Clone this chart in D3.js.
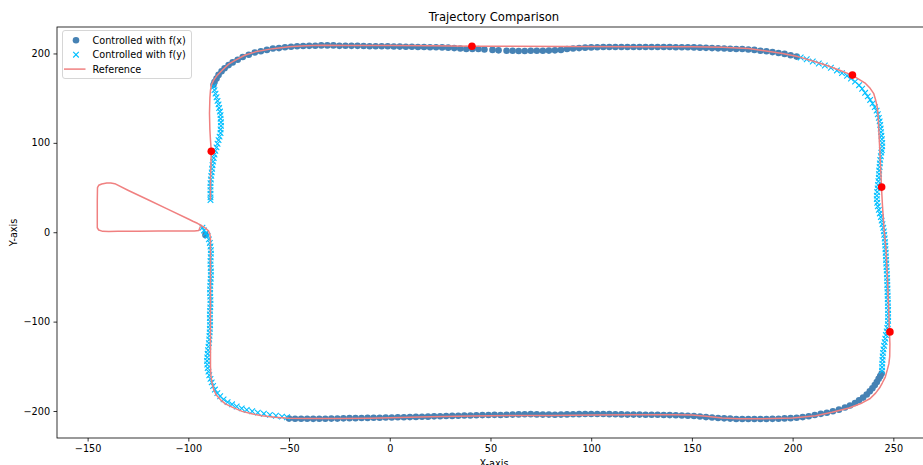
<!DOCTYPE html>
<html>
<head>
	<meta charset="utf-8">
	<title>Trajectory Comparison</title>
	<script src="https://cdnjs.cloudflare.com/ajax/libs/d3/7.8.5/d3.min.js"></script>
	<style>
		body { margin: 0; background: #fff; }
		svg { font-family: "DejaVu Sans", sans-serif; }
	</style>
</head>
<body>
<script>
	// tick labels
	var xTicks = [-150, -100, -50, 0, 50, 100, 150, 200, 250];
	var yTicks = [-200, -100, 0, 100, 200];

	// reference trajectory, [x, y]
	var refPath = [
		[-94, 6.5], [-94.8, 2], [-97, 1.5], [-105, 1.5], [-115, 1.5], [-125, 1.2], [-135, 1], [-139.5, 0.8],
		[-142.5, 1], [-144.5, 2.5], [-145.2, 5], [-145.2, 20], [-145.2, 35], [-145.1, 50], [-144.5, 52.5],
		[-143, 54], [-140.5, 55], [-138.5, 55], [-136.5, 54.3], [-130, 47], [-120, 36.3], [-110, 25.5],
		[-100, 14.8], [-97.5, 12], [-95.5, 10], [-93.5, 7.5], [-91.5, 4.5], [-90, 1.5], [-89.3, -2], [-89, -8],
		[-89, -40], [-89, -80], [-89, -120], [-89, -150], [-88.8, -160], [-88.3, -168], [-87.4, -176],
		[-86, -182.5], [-84, -187.5], [-81.6, -192], [-78, -196], [-73.3, -200.4], [-68, -203.3],
		[-63.4, -205.3], [-57, -207], [-50, -208], [-40, -208.5], [-25, -208.5], [-10, -208], [0, -207.5],
		[20, -206.5], [40, -205.5], [60, -205], [80, -205], [100, -204.5], [120, -204.3], [140, -204.3],
		[150, -204.5], [157, -206], [165, -207.8], [173, -208.6], [185, -208.6], [200, -207.8],
		[211.4, -205.3], [219.6, -201.5], [228, -196.6], [234.5, -191], [238.5, -186], [241.2, -180],
		[243.2, -174], [244.5, -168.7], [246, -162], [247, -154], [247.8, -147], [248.2, -139], [248.3, -125],
		[248.1, -112.8], [247.6, -80], [247, -46], [246.4, -20], [245.3, 6], [244.6, 30], [244.1, 51],
		[243.6, 77], [243.1, 100], [242.8, 114], [242.5, 129], [242, 140], [241.2, 148], [240.3, 155],
		[238.5, 161], [236.2, 166.5], [233, 171], [229.5, 175.8], [223, 181.5], [216.3, 187], [210, 191.5],
		[203, 196.2], [195, 200], [186, 203], [178, 205.6], [165, 207], [150, 207.5], [120, 207.5],
		[90, 207.8], [60, 208], [41, 208], [20, 208.5], [0, 208.8], [-20, 209], [-33.6, 209.3], [-42, 208.5],
		[-50, 207.4], [-58, 205.4], [-66.7, 201.8], [-72, 198], [-76.6, 192.5], [-80, 188], [-83.2, 181.3],
		[-85.5, 176], [-87.4, 170.2], [-88.5, 165], [-89, 159], [-89.3, 150], [-89.5, 133], [-89.3, 115],
		[-89, 103], [-88.6, 90], [-88.8, 75], [-89, 60], [-89, 45], [-89, 36]
	];

	// controlled with f(x): top and bottom runs
	var fxPoints = [
		[-91.5, -3],
		[-87.5, 165], [-87, 168], [-86, 172], [-85, 176], [-83.5, 180], [-82, 183.5], [-80, 187], [-78, 190],
		[-75.5, 193], [-73, 196], [-70, 198.5], [-67, 201], [-64, 202.5], [-61, 204], [-58, 205.5], [-55, 206],
		[-52, 207], [-49, 207.5], [-46, 208], [-43, 208.3], [-40, 208.5], [-37, 208.7], [-34, 209], [-31, 209],
		[-28, 209], [-25, 208.5], [-22, 208.7], [-19, 208.5], [-16, 208.5], [-13, 208.3], [-10, 208], [-7, 208],
		[-4, 208], [-1, 208], [2, 207.8], [5, 207.7], [8, 207.5], [11, 207.5], [14, 207.3], [17, 207.3],
		[20, 207], [23, 207], [26, 206.8], [29, 206.5], [32, 206], [35, 205.5], [38, 205], [41, 205], [44, 205],
		[47, 204.5], [51, 204], [54, 203.5], [58, 203], [61, 203], [64, 202.8], [67, 202.8], [70, 203], [73, 203],
		[76, 203], [79, 203.2], [82, 203.5], [85, 204], [88, 205], [91, 205.5], [94, 206], [97, 206.5],
		[100, 206.8], [103, 207], [106, 207.2], [109, 207.3], [112, 207.3], [115, 207.3], [118, 207.3],
		[121, 207.3], [124, 207.3], [127, 207.3], [130, 207.3], [133, 207.3], [136, 207.2], [139, 207.2],
		[142, 207], [145, 207], [148, 207], [151, 206.8], [154, 206.5], [157, 206.3], [160, 206], [163, 205.7],
		[166, 205.5], [169, 205.3], [172, 205], [175, 205], [178, 204.5], [181, 204], [184, 203], [187, 202.5],
		[190, 201.5], [193, 200.5], [196, 199.5], [199, 198], [202, 196.5],
		[-50, -208.5], [-47, -208.6], [-44, -208.7], [-41, -208.7], [-38, -208.8], [-35, -208.6], [-32, -208.6],
		[-29, -208.5], [-26, -208.5], [-23, -208.2], [-20, -208], [-17, -208], [-14, -207.8], [-11, -207.7],
		[-8, -207.6], [-5, -207.5], [-2, -207.3], [1, -207.2], [4, -207], [7, -207], [10, -206.8], [13, -206.6],
		[16, -206.5], [19, -206.3], [22, -206], [25, -205.8], [28, -205.6], [31, -205.5], [34, -205.3],
		[37, -205.1], [40, -205], [43, -204.8], [46, -204.6], [49, -204.5], [52, -204.3], [55, -204.5],
		[58, -204.2], [61, -204], [64, -203.8], [67, -203.6], [70, -203.5], [73, -203.8], [76, -204], [79, -204],
		[82, -204.2], [85, -204], [88, -203.8], [91, -203.6], [94, -203.5], [97, -203.4], [100, -203.3],
		[103, -203.3], [106, -203.4], [109, -203.5], [112, -203.6], [115, -203.8], [118, -204], [121, -204],
		[124, -204], [127, -204.2], [130, -204.2], [133, -204.2], [136, -204.4], [139, -204.6], [142, -204.8],
		[145, -205], [148, -205.3], [151, -205.6], [154, -206.2], [157, -206.8], [160, -207.3], [163, -207.8],
		[166, -208.2], [169, -208.5], [172, -209], [175, -209], [178, -209], [181, -209], [184, -209],
		[187, -209], [190, -208.8], [193, -208.6], [196, -208.3], [199, -208], [202, -207.5], [205, -206.8],
		[208, -205.8], [211, -204.5], [214, -203.2], [217, -202], [220, -200.3], [223, -198.5], [226, -196],
		[228.5, -193.8], [231, -191], [233, -188], [235, -185], [236.8, -181.5], [238.3, -178], [239.6, -174.5],
		[240.8, -171], [241.8, -167.5], [242.7, -164], [243.5, -161], [244.2, -158]
	];

	// controlled with f(y): the vertical runs and the top-right corner
	var fyPoints = [
		[-87.4, 163], [-87, 159], [-86.5, 155], [-86, 151], [-85.5, 147], [-85, 143], [-84.7, 139], [-84.3, 135],
		[-84, 131], [-84, 127], [-83.8, 123], [-83.8, 119], [-84, 115], [-84, 111], [-84.5, 107], [-85, 103],
		[-85.5, 99], [-86, 95], [-86.6, 91], [-87, 87], [-87.4, 83], [-87.7, 79], [-88, 75], [-88.2, 71],
		[-88.4, 67], [-88.6, 63], [-88.8, 59], [-89, 55], [-89, 51], [-89, 47], [-89, 43], [-89, 39], [-89, 36],
		[-93, 5], [-92.2, 2], [-91.3, -1], [-90.5, -4], [-89.8, -8], [-89.3, -12], [-89, -16], [-88.8, -20],
		[-88.8, -24], [-88.9, -28], [-89, -32], [-89, -36], [-88.9, -40], [-88.8, -44], [-88.8, -48],
		[-88.9, -52], [-89, -56], [-89.1, -60], [-89.2, -64], [-89.2, -68], [-89.1, -72], [-89, -76], [-89, -80],
		[-89.1, -84], [-89.2, -88], [-89.3, -92], [-89.3, -96], [-89.2, -100], [-89.2, -104], [-89.3, -108],
		[-89.4, -112], [-89.5, -116], [-89.6, -120], [-89.8, -124], [-90, -128], [-90.2, -132], [-90.4, -136],
		[-90.6, -140], [-90.7, -144], [-90.6, -148], [-90.4, -152], [-90, -156], [-89.6, -160], [-89, -164],
		[-88.4, -168], [-87.7, -172], [-86.8, -176], [-85.6, -180], [-84.2, -183.5], [-82.5, -187], [-80.5, -190],
		[-78.3, -192.5], [-76, -195], [-73.5, -197], [-71, -198.8], [-68.3, -200.3], [-65.5, -201.8],
		[-62.5, -203], [-59.5, -204.3], [-56.5, -205.3], [-53.5, -206.3], [-51, -207],
		[204, 195.5], [207, 193.5], [210, 191], [213, 188.8], [216, 186.5], [219, 184], [222, 181], [224.5, 178],
		[227, 175], [229, 172], [231, 168.5], [233, 164.5], [234.5, 160.5], [236, 156], [237.3, 152], [238.5, 148],
		[239.7, 144], [240.8, 140], [241.7, 136], [242.3, 132], [242.8, 128], [243.2, 124], [243.5, 120],
		[243.7, 116], [243.9, 112], [244.1, 108], [244.3, 104], [244.5, 100], [244.5, 96], [244.3, 92],
		[244, 89], [243.8, 85], [243.5, 81], [243.3, 77], [243.2, 73], [243, 69], [242.9, 65], [242.8, 61],
		[242.6, 57], [242.4, 53], [242.2, 49], [242, 45], [241.8, 41], [241.8, 37], [242, 33], [242.3, 29],
		[242.8, 25], [243.3, 21], [243.8, 17], [244.2, 13], [244.6, 9], [245, 5], [245.3, 1], [245.5, -3],
		[245.7, -7], [245.9, -11], [246, -15], [246.1, -19], [246.2, -23], [246.3, -27], [246.4, -31],
		[246.5, -35], [246.6, -39], [246.7, -43], [246.8, -47], [246.9, -51], [247, -55], [247, -59],
		[247.1, -63], [247.1, -67], [247.2, -71], [247.2, -75], [247.3, -79], [247.3, -83], [247.4, -87],
		[247.4, -91], [247.4, -95], [247.4, -99], [247.3, -103], [247, -107], [246.7, -111], [246.3, -115],
		[246, -119], [245.7, -123], [245.4, -127], [245.1, -131], [244.9, -135], [244.7, -139], [244.6, -143],
		[244.5, -147], [244.4, -151], [244.4, -155]
	];

	// red waypoints
	var waypoints = [[-88.6, 90.5], [40.8, 208], [229.7, 175.8], [244.2, 50.5], [248.3, -111.5]];

	var legendItems = ['Controlled with f(x)', 'Controlled with f(y)', 'Reference'];

	var width = 923, height = 465;
	var plot = { left: 57, right: 931, top: 27, bottom: 438 };

	var svg = d3.select('body').append('svg')
		.attr('width', width)
		.attr('height', height);

	var x = d3.scaleLinear().domain([-165.2, 268.7]).range([plot.left, plot.right]);
	var y = d3.scaleLinear().domain([-230.2, 229.6]).range([plot.bottom, plot.top]);

	function minus(d) {
		return d < 0 ? '\u2212' + Math.abs(d) : String(d);
	}

	var xAxis = svg.append('g')
		.attr('transform', 'translate(0,' + plot.bottom + ')')
		.call(d3.axisBottom(x).tickValues(xTicks).tickFormat(minus).tickSize(3.5).tickPadding(3.4));
	var yAxis = svg.append('g')
		.attr('transform', 'translate(' + plot.left + ',0)')
		.call(d3.axisLeft(y).tickValues(yTicks).tickFormat(minus).tickSize(3.5).tickPadding(3.4));

	[xAxis, yAxis].forEach(function (g) {
		g.select('.domain').remove();
		g.selectAll('line').attr('stroke', '#000').attr('stroke-width', 0.8);
		g.selectAll('text').attr('fill', '#000').style('font-size', '9.7px').style('font-family', '"DejaVu Sans", sans-serif');
	});

	// markers
	var line = d3.line()
		.x(function (d) { return x(d[0]); })
		.y(function (d) { return y(d[1]); });

	svg.append('g').selectAll('circle')
		.data(fxPoints)
		.enter()
		.append('circle')
		.attr('cx', function (d) { return x(d[0]); })
		.attr('cy', function (d) { return y(d[1]); })
		.attr('r', 3.3)
		.attr('fill', '#4682b4');

	var cross = 'M-2.8,-2.8L2.8,2.8M-2.8,2.8L2.8,-2.8';
	svg.append('g').selectAll('path')
		.data(fyPoints)
		.enter()
		.append('path')
		.attr('d', cross)
		.attr('transform', function (d) { return 'translate(' + x(d[0]) + ',' + y(d[1]) + ')'; })
		.attr('stroke', '#00bfff')
		.attr('stroke-width', 1.1)
		.attr('fill', 'none');

	svg.append('path')
		.datum(refPath)
		.attr('d', line)
		.attr('fill', 'none')
		.attr('stroke', '#f08080')
		.attr('stroke-width', 1.5)
		.attr('stroke-linejoin', 'round');

	svg.append('g').selectAll('circle')
		.data(waypoints)
		.enter()
		.append('circle')
		.attr('cx', function (d) { return x(d[0]); })
		.attr('cy', function (d) { return y(d[1]); })
		.attr('r', 3.8)
		.attr('fill', '#ff0000');

	// frame
	svg.append('rect')
		.attr('x', plot.left)
		.attr('y', plot.top)
		.attr('width', plot.right - plot.left)
		.attr('height', plot.bottom - plot.top)
		.attr('fill', 'none')
		.attr('stroke', '#000')
		.attr('stroke-width', 0.8);

	// titles
	svg.append('text')
		.attr('x', (plot.left + plot.right) / 2)
		.attr('y', 21)
		.attr('text-anchor', 'middle')
		.style('font-size', '11.6px')
		.text('Trajectory Comparison');

	// the x label sits partly below the frame edge, as in the original
	svg.append('text')
		.attr('x', (plot.left + plot.right) / 2)
		.attr('y', 467)
		.attr('text-anchor', 'middle')
		.style('font-size', '9.7px')
		.text('X-axis');

	svg.append('text')
		.attr('transform', 'translate(17,' + (plot.top + plot.bottom) / 2 + ') rotate(-90)')
		.attr('text-anchor', 'middle')
		.style('font-size', '9.7px')
		.text('Y-axis');

	// legend
	var legend = svg.append('g').attr('transform', 'translate(62,30)');
	legend.append('rect')
		.attr('x', 0.5)
		.attr('y', 0.5)
		.attr('width', 129)
		.attr('height', 48)
		.attr('rx', 2.5)
		.attr('fill', '#fff')
		.attr('fill-opacity', 0.8)
		.attr('stroke', '#cccccc')
		.attr('stroke-width', 0.8);

	var rows = legend.selectAll('g.row')
		.data(legendItems)
		.enter()
		.append('g')
		.attr('class', 'row')
		.attr('transform', function (d, i) { return 'translate(0,' + (10.3 + i * 14.4) + ')'; });

	rows.append('text')
		.attr('x', 30.5)
		.attr('y', 3.5)
		.style('font-size', '9.7px')
		.text(function (d) { return d; });

	rows.filter(function (d, i) { return i === 0; })
		.append('circle').attr('cx', 14).attr('cy', 0).attr('r', 3.3).attr('fill', '#4682b4');
	rows.filter(function (d, i) { return i === 1; })
		.append('path').attr('d', cross).attr('transform', 'translate(14,0)')
		.attr('stroke', '#00bfff').attr('stroke-width', 1.1).attr('fill', 'none');
	rows.filter(function (d, i) { return i === 2; })
		.append('line').attr('x1', 2).attr('x2', 23.5).attr('y1', 0).attr('y2', 0)
		.attr('stroke', '#f08080').attr('stroke-width', 1.5);
</script>
</body>
</html>
